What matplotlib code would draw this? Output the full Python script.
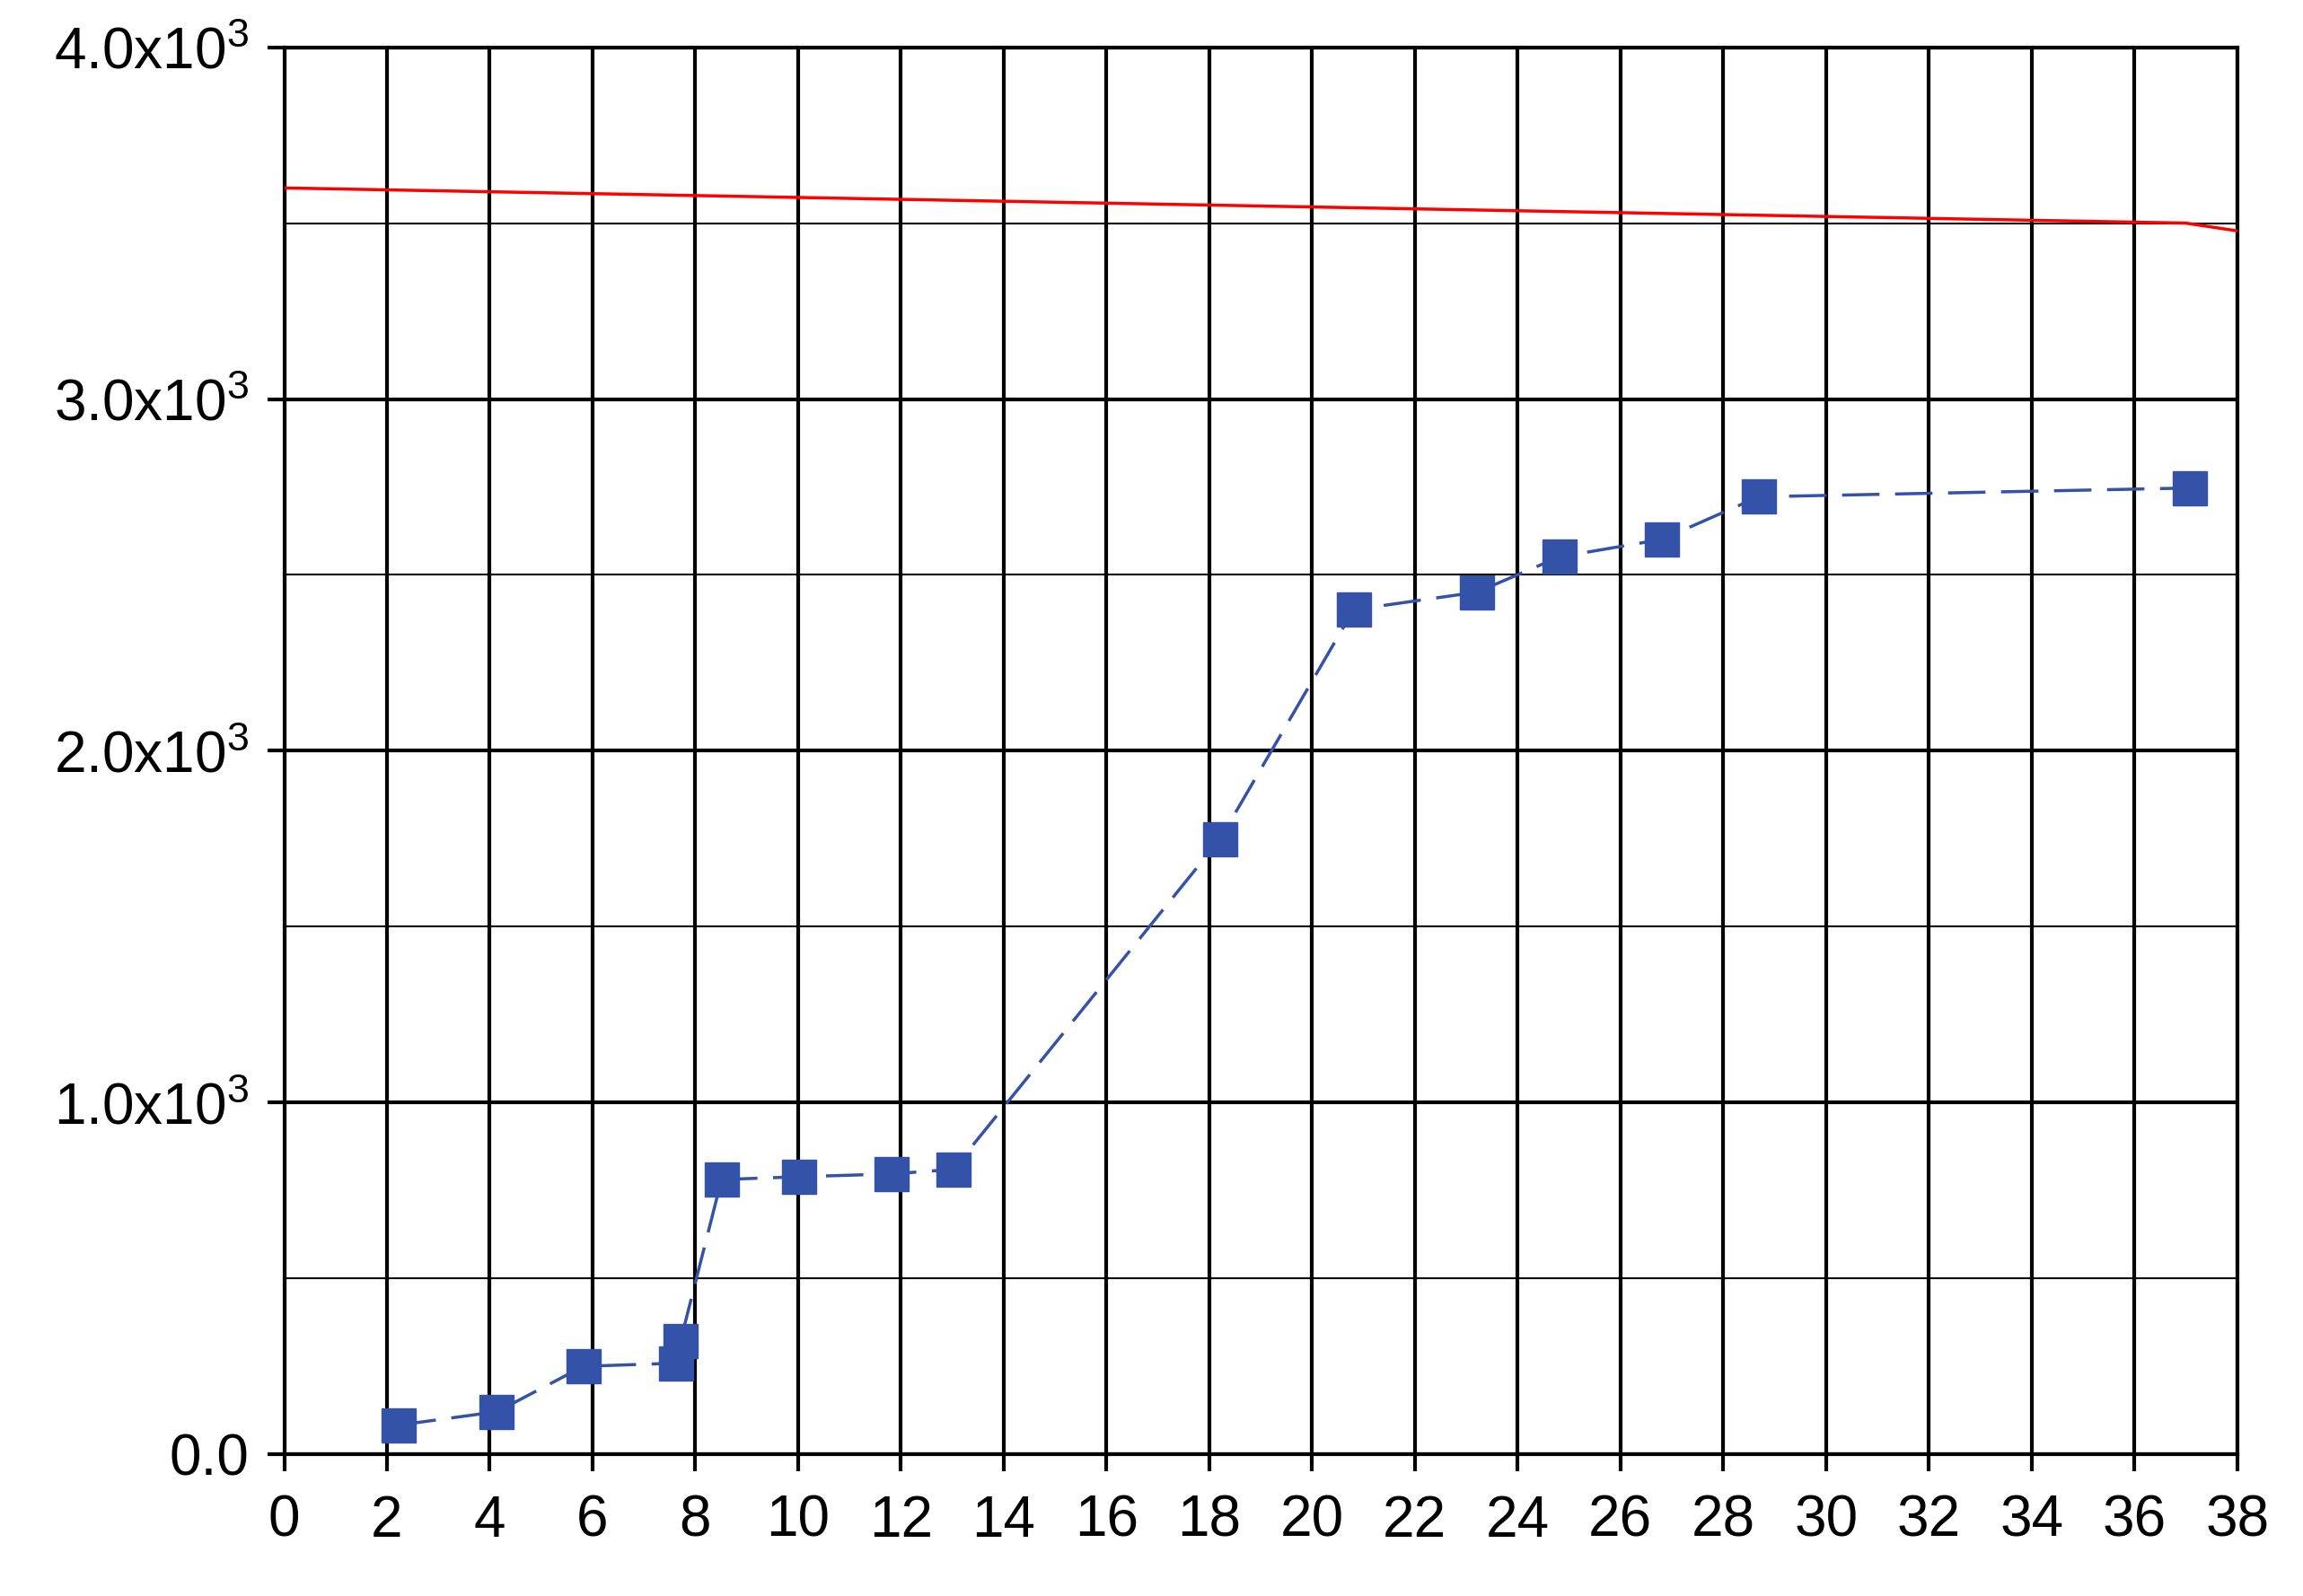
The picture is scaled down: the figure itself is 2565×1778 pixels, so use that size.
import matplotlib
matplotlib.use("Agg")
import matplotlib.pyplot as plt
from matplotlib.ticker import FixedLocator

x_blue = [2.23, 4.14, 5.82, 7.62, 7.71, 8.51, 10.02, 11.82, 13.02, 18.21, 20.81, 23.21, 24.81, 26.81, 28.69, 37.08]
y_blue = [83, 121, 250, 259, 321, 781, 789, 797, 810, 1749, 2401, 2451, 2551, 2601, 2722, 2747]
x_red = [0, 37, 38]
y_red = [3600, 3500, 3478]
y_major = [0, 1000, 2000, 3000, 4000]
y_labels = ["0.0", "1.0x10$^3$", "2.0x10$^3$", "3.0x10$^3$", "4.0x10$^3$"]

plt.rcParams['font.family'] = ['Liberation Sans', 'DejaVu Sans']
plt.rcParams['mathtext.fontset'] = 'custom'
plt.rcParams['mathtext.rm'] = 'Liberation Sans'

fig = plt.figure(figsize=(25.65, 17.78), dpi=100)
ax = fig.add_axes([0.1234, 0.0888, 0.848, 0.8816])
ax.set_xlim(0, 38)
ax.set_ylim(0, 4000)
ax.xaxis.set_major_locator(FixedLocator(range(0, 39, 2)))
ax.yaxis.set_major_locator(FixedLocator(y_major))
ax.yaxis.set_minor_locator(FixedLocator([500, 1500, 2500, 3500]))
ax.set_yticklabels(y_labels)
ax.grid(True, which='major', color='black', linewidth=3)
ax.grid(True, which='minor', axis='y', color='black', linewidth=1.5)
ax.set_axisbelow(True)
for s in ax.spines.values():
    s.set_linewidth(3)
ax.tick_params(axis='both', which='major', labelsize=46, width=3, length=14, direction='out')
ax.tick_params(axis='x', pad=18)
ax.tick_params(axis='y', pad=14)
ax.tick_params(axis='y', which='minor', length=0)
ax.plot(x_red, y_red, color='#ff0000', linewidth=2.5, zorder=3)
ax.plot(x_blue, y_blue, color='#3352a8', linewidth=2.5, linestyle=(0, (12, 5)),
        marker='s', markersize=28, markerfacecolor='#3352a8', markeredgecolor='#3352a8', zorder=4)
fig.savefig("out.png", dpi=100)
